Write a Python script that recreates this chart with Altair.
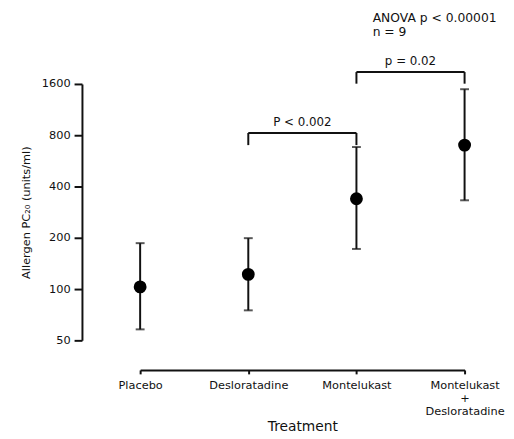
import altair as alt
import pandas as pd

# ---- data ----
categories = ["Placebo", "Desloratadine", "Montelukast", "Montelukast + Desloratadine"]
means = [103, 122, 339, 700]
lows = [58, 75, 172, 332]
highs = [186, 199, 682, 1490]

y_ticks = [50, 100, 200, 400, 800, 1600]

# significance brackets (category indices, bracket level, leg end)
br_left = [1, 2]
br_right = [2, 3]
br_top = [825, 1879]
br_bottom = [700, 1606]
br_labels = ["P < 0.002", "p = 0.02"]

anova_text = ["ANOVA p < 0.00001", "n = 9"]
anova_pos = [2.15, 4200]

FONT = "DejaVu Sans"
INK = "#111111"

df = pd.DataFrame({
    "idx": list(range(len(categories))),
    "cat": categories,
    "mean": means,
    "low": lows,
    "high": highs,
})

br = pd.DataFrame({
    "x1": br_left, "x2": br_right, "top": br_top, "bottom": br_bottom,
    "label": br_labels,
})
br["mid"] = (br["x1"] + br["x2"]) / 2
legs = pd.concat([
    pd.DataFrame({"x": br["x1"], "top": br["top"], "bottom": br["bottom"]}),
    pd.DataFrame({"x": br["x2"], "top": br["top"], "bottom": br["bottom"]}),
], ignore_index=True)

ann = pd.DataFrame({"x": [anova_pos[0]], "y": [anova_pos[1]], "t": ["\n".join(anova_text)]})

# label expression for the x axis (multi-line for combined treatment)
parts = []
for i, c in enumerate(categories):
    lines = c.split(" + ")
    if len(lines) > 1:
        lines = [lines[0], "+", lines[1]]
        txt = "[" + ",".join("'" + l + "'" for l in lines) + "]"
    else:
        txt = "'" + c + "'"
    parts.append((i, txt))
expr = ""
for i, txt in parts[:-1]:
    expr += f"datum.value == {i} ? {txt} : "
expr += parts[-1][1]

x_scale = alt.Scale(domain=[0, len(categories) - 1], range=[59, 388], nice=False, zero=False)
y_scale = alt.Scale(type="log", domain=[50, 1600], nice=False)

x_axis = alt.Axis(
    values=list(range(len(categories))), labelExpr=expr, title="Treatment",
    grid=False, offset=30, domainWidth=2, domainColor=INK, tickWidth=2, tickColor=INK,
    tickSize=4, labelFont=FONT, labelFontSize=11.5, labelColor=INK, labelPadding=6,
    labelLineHeight=13, labelOverlap=False, labelBound=False, labelFlush=False,
    titleFont=FONT, titleFontSize=14, titleFontWeight="normal",
    titleColor=INK, titlePadding=3,
)
y_axis = alt.Axis(
    values=y_ticks, format="d", title="Allergen PC₂₀ (units/ml)", grid=False,
    domainWidth=2, domainColor=INK, tickWidth=2, tickColor=INK, tickSize=8,
    labelFont=FONT, labelFontSize=11.5, labelColor=INK, labelPadding=4,
    labelOverlap=False,
    titleFont=FONT, titleFontSize=11.5, titleFontWeight="normal", titleColor=INK,
    titlePadding=10,
)

base = alt.Chart(df)
x = alt.X("idx:Q", scale=x_scale, axis=x_axis)

bars = base.mark_rule(color=INK, strokeWidth=2).encode(
    x=x, y=alt.Y("low:Q", scale=y_scale, axis=y_axis), y2="high:Q")
cap_lo = base.mark_tick(orient="horizontal", size=9, thickness=2, color=INK).encode(
    x=x, y=alt.Y("low:Q", scale=y_scale))
cap_hi = base.mark_tick(orient="horizontal", size=9, thickness=2, color=INK).encode(
    x=x, y=alt.Y("high:Q", scale=y_scale))
pts = base.mark_circle(size=170, color="black", opacity=1).encode(
    x=x, y=alt.Y("mean:Q", scale=y_scale))

br_h = alt.Chart(br).mark_rule(color=INK, strokeWidth=2).encode(
    x=alt.X("x1:Q", scale=x_scale), x2="x2:Q", y=alt.Y("top:Q", scale=y_scale))
br_v = alt.Chart(legs).mark_rule(color=INK, strokeWidth=2).encode(
    x=alt.X("x:Q", scale=x_scale), y=alt.Y("top:Q", scale=y_scale), y2="bottom:Q")
br_t = alt.Chart(br).mark_text(font=FONT, fontSize=12, color=INK, baseline="bottom", dy=-4).encode(
    x=alt.X("mid:Q", scale=x_scale), y=alt.Y("top:Q", scale=y_scale), text="label:N")

ann_t = alt.Chart(ann).mark_text(font=FONT, fontSize=12.5, color=INK, align="left",
                                 baseline="top", lineBreak="\n", lineHeight=14).encode(
    x=alt.X("x:Q", scale=x_scale), y=alt.Y("y:Q", scale=y_scale), text="t:N")

chart = alt.layer(bars, cap_lo, cap_hi, pts, br_h, br_v, br_t, ann_t).properties(
    width=420, height=260,
    padding={"left": 75, "top": 74, "right": 10, "bottom": 96},
    autosize=alt.AutoSizeParams(type="none"),
    background="white",
).configure_view(strokeWidth=0)

chart.save("out.html", embed_options={"renderer": "svg", "actions": False})
